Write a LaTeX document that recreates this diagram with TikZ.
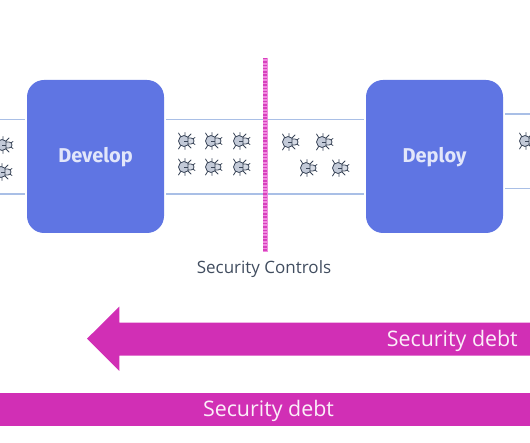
\documentclass[tikz,border=0pt]{standalone}
\usepackage{fontspec}
\setmainfont{Open Sans}
\newfontfamily\boxfont{Fira Sans}
\usetikzlibrary{positioning}
\definecolor{stageblue}{HTML}{5F75E3}
\definecolor{flowblue}{HTML}{A9BFE6}
\definecolor{debtpink}{HTML}{D12FB5}
\definecolor{gatepink}{HTML}{F08ADF}
\definecolor{buggrey}{HTML}{C3CAD8}
\definecolor{bugdark}{HTML}{3A4558}
\definecolor{labeldark}{HTML}{414D5F}
\tikzset{
  stage/.style={fill=stageblue, rounded corners=17pt, minimum width=137pt, minimum height=153pt, inner sep=0pt, text=white!82!stageblue, text height=13pt, text depth=0pt, font=\boxfont\fontsize{20}{24}\selectfont\bfseries},
  flow/.style={flowblue, line width=1.2pt},
  debt/.style={fill=debtpink, draw=none},
  debtlabel/.style={text=white!92!debtpink, inner sep=0pt, font=\fontsize{21.4}{25}\selectfont},
  pics/bug/.style={code={
    \draw[bugdark, line width=0.8pt, line cap=round]
      (-5,-4) -- (-7.5,-8) (-1,-5) -- (-1,-8.5) (2,-4) -- (5,-7)
      (-5,4) -- (-7.5,8) (-1,5) -- (-1,8.5) (2,4) -- (5,7)
      (6,-1.5) -- (9,-3.5) (6,1.5) -- (9,3.5);
    \draw[bugdark, fill=buggrey, line width=0.8pt] (-2,0) ellipse [x radius=5.5, y radius=5.5];
    \draw[bugdark, fill=buggrey!70, line width=0.8pt] (2,-3) -- (5,-3) arc [start angle=-90, end angle=90, radius=3] -- (2,3) -- cycle;
    \draw[bugdark, line width=0.7pt] (-2,0) -- (2,0);
  }}
}
\begin{document}
\begin{tikzpicture}[x=1pt, y=-1pt]
  \clip (0,0) rectangle (530,443);
  \node[stage] (develop) at (95.5,156.5) {Develop};
  \node[stage] (deploy) at (434.5,156.5) {Deploy};
  \coordinate (leftedge) at (0,156.5);
  \coordinate (rightedge) at (530,151);
  % flow lines
  \draw[flow] ([yshift=37pt]leftedge) -- ([yshift=37pt, xshift=-1.5pt]develop.west);
  \draw[flow] ([yshift=-37.5pt]leftedge) -- ([yshift=-37.5pt, xshift=-1.5pt]develop.west);
  \draw[flow] ([yshift=37pt, xshift=2pt]develop.east) -- ([yshift=37pt, xshift=-2pt]deploy.west);
  \draw[flow] ([yshift=-37.5pt, xshift=2pt]develop.east) -- ([yshift=-37.5pt, xshift=-2pt]deploy.west);
  \draw[flow] ([yshift=37pt, xshift=2pt]deploy.east |- rightedge) -- ([yshift=37pt]rightedge);
  \draw[flow] ([yshift=-37.5pt, xshift=2pt]deploy.east |- rightedge) -- ([yshift=-37.5pt]rightedge);
  % bugs
  \foreach \x/\y in {4/145, 3/172, 186/141, 213/141, 241/141, 186/167, 213/167, 241/167, 290/142, 324/142, 308/168, 340/168, 527/141}{
    \pic at (\x,\y) {bug};
  }
  % security gate
  \coordinate (gatetop) at (265,58);
  \coordinate (gatebottom) at (265,252);
  \draw[gatepink, line width=5pt] (gatetop) -- (gatebottom);
  \draw[debtpink!80!gatepink, line width=3.6pt, dash pattern=on 1.5pt off 1.8pt] (gatetop) -- (gatebottom);
  \node[text=labeldark, inner sep=0pt, anchor=base, font=\fontsize{17}{20}\selectfont] (gatelabel) at (264,274) {Security Controls};
  % debt arrow and bar
  \fill[debt] (530,322.7) -- (119.3,322.7) -- (119.3,306.7) -- (87,338.7) -- (119.3,371) -- (119.3,355.7) -- (530,355.7) -- cycle;
  \node[debtlabel, anchor=base east] (arrowlabel) at (518,346.3) {Security debt};
  \fill[debt] (0,392.7) rectangle (530,425.7);
  \node[debtlabel, anchor=base] (barlabel) at (268.5,416.7) {Security debt};
\end{tikzpicture}
\end{document}
